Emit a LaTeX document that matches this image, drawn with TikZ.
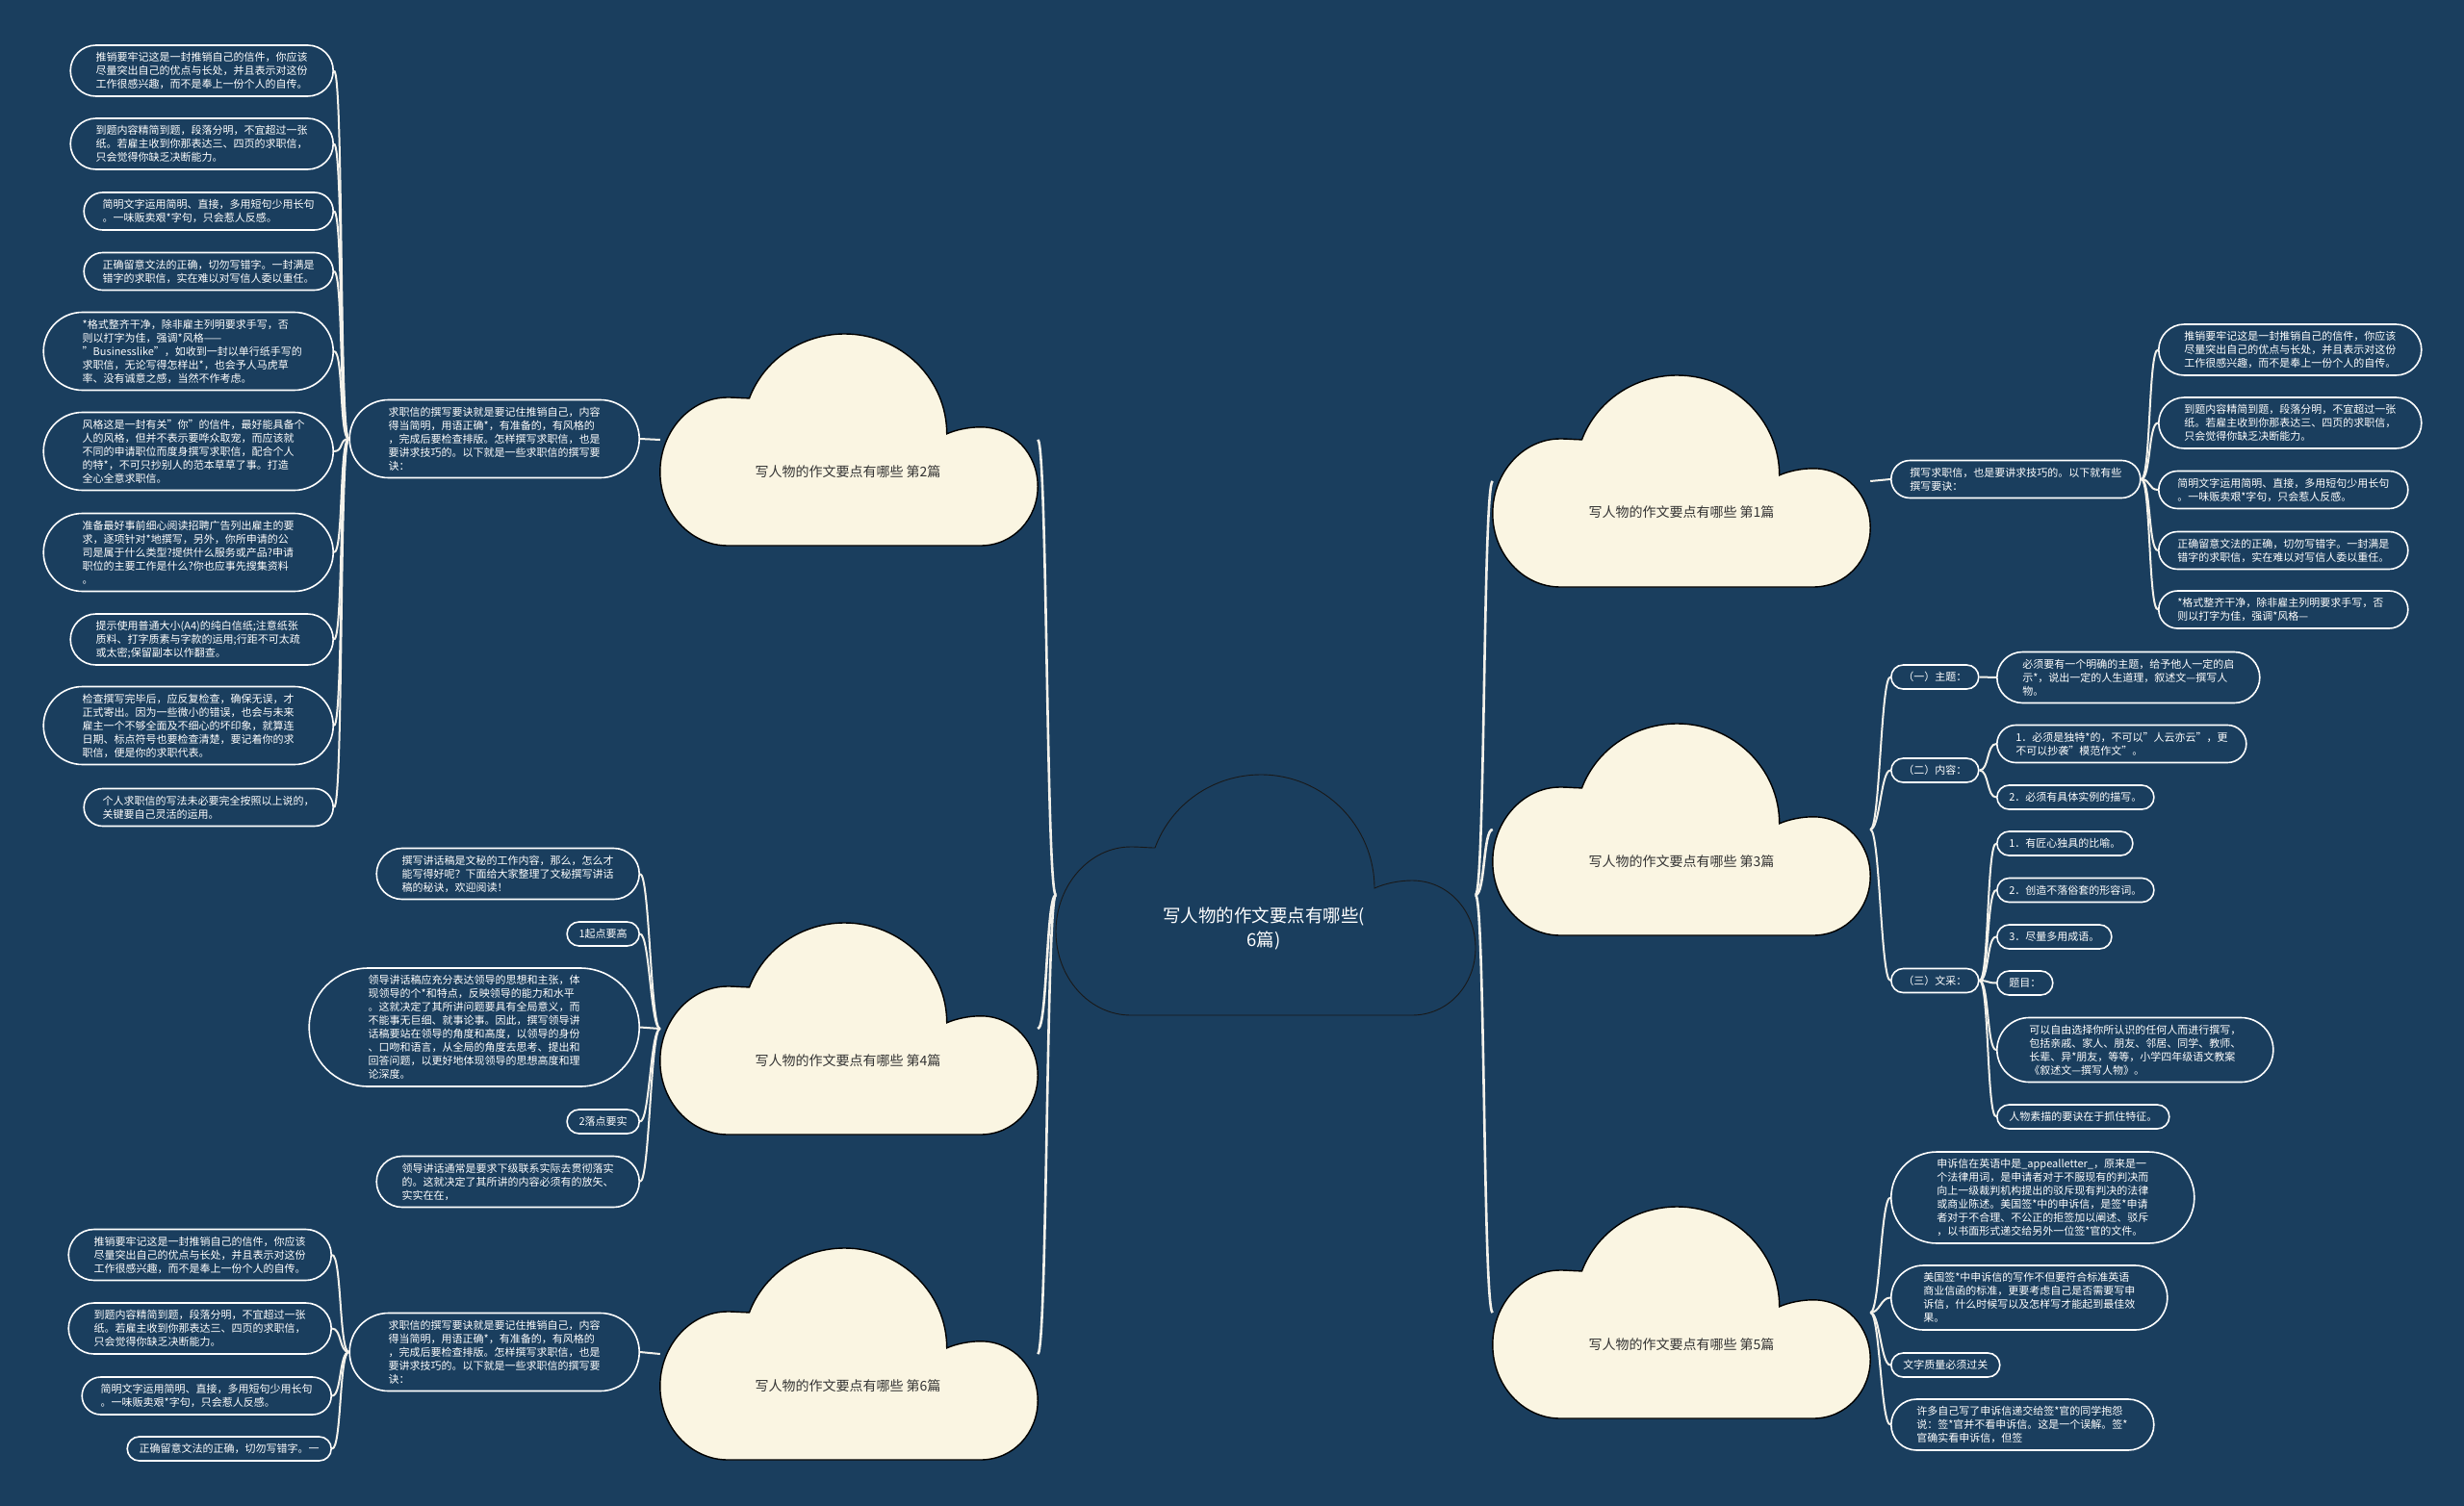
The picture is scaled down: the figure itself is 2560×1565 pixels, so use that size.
\documentclass[tikz,border=0pt]{standalone}
\usepackage{fontspec}
\setmainfont{Noto Sans CJK SC}

\definecolor{bgblue}{HTML}{1A3E5E}
\definecolor{cream}{HTML}{FAF5E2}
\definecolor{linecol}{HTML}{F3F1EA}

\tikzset{
    leaf/.style={rectangle, draw=white, line width=1.6pt, inner ysep=3pt,
        text=white, font=\fontsize{11}{14}\selectfont, align=left},
    wide/.style={text width=220pt},
    lines1/.style={minimum height=25pt, inner xsep=12.5pt, rounded corners=12.5pt},
    lines2/.style={minimum height=39pt, inner xsep=19.5pt, rounded corners=19.5pt},
    lines3/.style={minimum height=53pt, inner xsep=26.5pt, rounded corners=26.5pt},
    lines4/.style={minimum height=67pt, inner xsep=33.5pt, rounded corners=33.5pt},
    lines5/.style={minimum height=81pt, inner xsep=40.5pt, rounded corners=40.5pt},
    lines6/.style={minimum height=95pt, inner xsep=47.5pt, rounded corners=47.5pt},
    lines8/.style={minimum height=123pt, inner xsep=61.5pt, rounded corners=61.5pt},
    link/.style={draw=linecol, line width=2pt},
    rootlink/.style={draw=linecol, line width=2.6pt},
    roottext/.style={text=white, font=\fontsize{18.5}{25}\selectfont, align=center},
    cloudtext/.style={text=black!80, font=\fontsize{14}{17}\selectfont},
    rootcloud/.style={fill=bgblue, draw=black!90, line width=0.9pt},
    branchcloud/.style={fill=cream, draw=black, line width=1.4pt, xscale=0.9, yscale=0.88},
    cloudpic/.pic={
        \path[pic actions] (-140,125)
            .. controls (-183,125) and (-218,86) .. (-218,38)
            .. controls (-218,-10) and (-183,-50) .. (-140,-50)
            .. controls (-131,-50) and (-122,-49) .. (-115,-49)
            .. controls (-98,-95) and (-54,-125) .. (-5,-125)
            .. controls (60,-125) and (113,-72) .. (113,-7)
            .. controls (124,-12) and (139,-15) .. (152,-15)
            .. controls (190,-15) and (218,17) .. (218,55)
            .. controls (218,93) and (190,125) .. (152,125)
            -- cycle;
        \coordinate (-w) at (-218,0);
        \coordinate (-e) at (218,0);
    }
}

\begin{document}
\begin{tikzpicture}[x=1pt, y=-1pt]
    \useasboundingbox (0,0) rectangle (2560,1565);
    \fill[bgblue] (0,0) rectangle (2560,1565);

    \pic[rootcloud] (c0) at (1315,930) {cloudpic};
    \pic[branchcloud] (c1) at (1747,500) {cloudpic};
    \pic[branchcloud] (c2) at (882,457) {cloudpic};
    \pic[branchcloud] (c3) at (1747,862) {cloudpic};
    \pic[branchcloud] (c4) at (882,1069) {cloudpic};
    \pic[branchcloud] (c5) at (1747,1364) {cloudpic};
    \pic[branchcloud] (c6) at (882,1407) {cloudpic};

    \node [roottext] (root) at (1313,965) {写人物的作文要点有哪些(\\6篇)};
    \node [cloudtext] (t1) at (1747,532) {写人物的作文要点有哪些 第1篇};
    \node [cloudtext] (t2) at (881,490) {写人物的作文要点有哪些 第2篇};
    \node [cloudtext] (t3) at (1747,895) {写人物的作文要点有哪些 第3篇};
    \node [cloudtext] (t4) at (881,1102) {写人物的作文要点有哪些 第4篇};
    \node [cloudtext] (t5) at (1747,1397) {写人物的作文要点有哪些 第5篇};
    \node [cloudtext] (t6) at (881,1440) {写人物的作文要点有哪些 第6篇};

    \draw[rootlink] (c0-w) .. controls +(-10,0) and +(10,0) .. (c2-e);
    \draw[rootlink] (c0-w) .. controls +(-10,0) and +(10,0) .. (c4-e);
    \draw[rootlink] (c0-w) .. controls +(-10,0) and +(10,0) .. (c6-e);
    \draw[rootlink] (c0-e) .. controls +(10,0) and +(-10,0) .. (c1-w);
    \draw[rootlink] (c0-e) .. controls +(10,0) and +(-10,0) .. (c3-w);
    \draw[rootlink] (c0-e) .. controls +(10,0) and +(-10,0) .. (c5-w);

    % 第1篇
    \node [leaf, wide, lines2, anchor=west] (m1) at (1964,498) {撰写求职信，也是要讲求技巧的。以下就有些\\撰写要诀：};
    \node [leaf, wide, lines3, anchor=west] (r1a) at (2242,363.5) {推销要牢记这是一封推销自己的信件，你应该\\尽量突出自己的优点与长处，并且表示对这份\\工作很感兴趣，而不是奉上一份个人的自传。};
    \node [leaf, wide, lines3, anchor=west] (r1b) at (2242,439.5) {到题内容精简到题，段落分明，不宜超过一张\\纸。若雇主收到你那表达三、四页的求职信，\\只会觉得你缺乏决断能力。};
    \node [leaf, wide, lines2, anchor=west] (r1c) at (2242,509) {简明文字运用简明、直接，多用短句少用长句\\。一味贩卖艰*字句，只会惹人反感。};
    \node [leaf, wide, lines2, anchor=west] (r1d) at (2242,572) {正确留意文法的正确，切勿写错字。一封满是\\错字的求职信，实在难以对写信人委以重任。};
    \node [leaf, wide, lines2, anchor=west] (r1e) at (2242,633.5) {*格式整齐干净，除非雇主列明要求手写，否\\则以打字为佳，强调*风格—};

    \draw[link] (c1-e) -- (m1.west);
    \draw[link] (m1.east) .. controls +(10,0) and +(-10,0) .. (r1a.west);
    \draw[link] (m1.east) .. controls +(10,0) and +(-10,0) .. (r1b.west);
    \draw[link] (m1.east) .. controls +(10,0) and +(-10,0) .. (r1c.west);
    \draw[link] (m1.east) .. controls +(10,0) and +(-10,0) .. (r1d.west);
    \draw[link] (m1.east) .. controls +(10,0) and +(-10,0) .. (r1e.west);

    % 第2篇
    \node [leaf, wide, lines5, anchor=east] (m2) at (665,456) {求职信的撰写要诀就是要记住推销自己，内容\\得当简明，用语正确*，有准备的，有风格的\\，完成后要检查排版。怎样撰写求职信，也是\\要讲求技巧的。以下就是一些求职信的撰写要\\诀：};
    \node [leaf, wide, lines3, anchor=east] (l2a) at (347,73.5) {推销要牢记这是一封推销自己的信件，你应该\\尽量突出自己的优点与长处，并且表示对这份\\工作很感兴趣，而不是奉上一份个人的自传。};
    \node [leaf, wide, lines3, anchor=east] (l2b) at (347,149.5) {到题内容精简到题，段落分明，不宜超过一张\\纸。若雇主收到你那表达三、四页的求职信，\\只会觉得你缺乏决断能力。};
    \node [leaf, wide, lines2, anchor=east] (l2c) at (347,219.5) {简明文字运用简明、直接，多用短句少用长句\\。一味贩卖艰*字句，只会惹人反感。};
    \node [leaf, wide, lines2, anchor=east] (l2d) at (347,282) {正确留意文法的正确，切勿写错字。一封满是\\错字的求职信，实在难以对写信人委以重任。};
    \node [leaf, wide, lines5, anchor=east] (l2e) at (347,365) {*格式整齐干净，除非雇主列明要求手写，否\\则以打字为佳，强调*风格——\\"Businesslike"，如收到一封以单行纸手写的\\求职信，无论写得怎样出*，也会予人马虎草\\率、没有诚意之感，当然不作考虑。};
    \node [leaf, wide, lines5, anchor=east] (l2f) at (347,469) {风格这是一封有关"你"的信件，最好能具备个\\人的风格，但并不表示要哗众取宠，而应该就\\不同的申请职位而度身撰写求职信，配合个人\\的特*，不可只抄别人的范本草草了事。打造\\全心全意求职信。};
    \node [leaf, wide, lines5, anchor=east] (l2g) at (347,574) {准备最好事前细心阅读招聘广告列出雇主的要\\求，逐项针对*地撰写，另外，你所申请的公\\司是属于什么类型?提供什么服务或产品?申请\\职位的主要工作是什么?你也应事先搜集资料\\。};
    \node [leaf, wide, lines3, anchor=east] (l2h) at (347,664.5) {提示使用普通大小(A4)的纯白信纸;注意纸张\\质料、打字质素与字款的运用;行距不可太疏\\或太密;保留副本以作翻查。};
    \node [leaf, wide, lines5, anchor=east] (l2i) at (347,754) {检查撰写完毕后，应反复检查，确保无误，才\\正式寄出。因为一些微小的错误，也会与未来\\雇主一个不够全面及不细心的坏印象，就算连\\日期、标点符号也要检查清楚，要记着你的求\\职信，便是你的求职代表。};
    \node [leaf, wide, lines2, anchor=east] (l2j) at (347,839) {个人求职信的写法未必要完全按照以上说的，\\关键要自己灵活的运用。};

    \draw[link] (c2-w) -- (m2.east);
    \draw[link] (m2.west) .. controls +(-10,0) and +(10,0) .. (l2a.east);
    \draw[link] (m2.west) .. controls +(-10,0) and +(10,0) .. (l2b.east);
    \draw[link] (m2.west) .. controls +(-10,0) and +(10,0) .. (l2c.east);
    \draw[link] (m2.west) .. controls +(-10,0) and +(10,0) .. (l2d.east);
    \draw[link] (m2.west) .. controls +(-10,0) and +(10,0) .. (l2e.east);
    \draw[link] (m2.west) .. controls +(-10,0) and +(10,0) .. (l2f.east);
    \draw[link] (m2.west) .. controls +(-10,0) and +(10,0) .. (l2g.east);
    \draw[link] (m2.west) .. controls +(-10,0) and +(10,0) .. (l2h.east);
    \draw[link] (m2.west) .. controls +(-10,0) and +(10,0) .. (l2i.east);
    \draw[link] (m2.west) .. controls +(-10,0) and +(10,0) .. (l2j.east);

    % 第3篇
    \node [leaf, lines1, anchor=west] (k1) at (1964,703.5) {（一）主题：};
    \node [leaf, lines1, anchor=west] (k2) at (1964,800.5) {（二）内容：};
    \node [leaf, lines1, anchor=west] (k3) at (1964,1019) {（三）文采：};
    \node [leaf, wide, lines3, anchor=west] (s1) at (2074,704) {必须要有一个明确的主题，给予他人一定的启\\示*，说出一定的人生道理，叙述文—撰写人\\物。};
    \node [leaf, wide, lines2, anchor=west] (s2a) at (2074,773) {1．必须是独特*的，不可以"人云亦云"，更\\不可以抄袭"模范作文"。};
    \node [leaf, lines1, anchor=west] (s2b) at (2074,828.5) {2．必须有具体实例的描写。};
    \node [leaf, lines1, anchor=west] (s3a) at (2074,876.5) {1．有匠心独具的比喻。};
    \node [leaf, lines1, anchor=west] (s3b) at (2074,925) {2．创造不落俗套的形容词。};
    \node [leaf, lines1, anchor=west] (s3c) at (2074,973.5) {3．尽量多用成语。};
    \node [leaf, lines1, anchor=west] (s3d) at (2074,1021.5) {题目：};
    \node [leaf, wide, lines4, anchor=west] (s3e) at (2074,1091) {可以自由选择你所认识的任何人而进行撰写，\\包括亲戚、家人、朋友、邻居、同学、教师、\\长辈、异*朋友，等等，小学四年级语文教案\\《叙述文—撰写人物》。};
    \node [leaf, lines1, anchor=west] (s3f) at (2074,1160.5) {人物素描的要诀在于抓住特征。};

    \draw[link] (c3-e) .. controls +(10,0) and +(-10,0) .. (k1.west);
    \draw[link] (c3-e) .. controls +(10,0) and +(-10,0) .. (k2.west);
    \draw[link] (c3-e) .. controls +(10,0) and +(-10,0) .. (k3.west);
    \draw[link] (k1.east) -- (s1.west);
    \draw[link] (k2.east) .. controls +(10,0) and +(-10,0) .. (s2a.west);
    \draw[link] (k2.east) .. controls +(10,0) and +(-10,0) .. (s2b.west);
    \draw[link] (k3.east) .. controls +(10,0) and +(-10,0) .. (s3a.west);
    \draw[link] (k3.east) .. controls +(10,0) and +(-10,0) .. (s3b.west);
    \draw[link] (k3.east) .. controls +(10,0) and +(-10,0) .. (s3c.west);
    \draw[link] (k3.east) .. controls +(10,0) and +(-10,0) .. (s3d.west);
    \draw[link] (k3.east) .. controls +(10,0) and +(-10,0) .. (s3e.west);
    \draw[link] (k3.east) .. controls +(10,0) and +(-10,0) .. (s3f.west);

    % 第4篇
    \node [leaf, wide, lines3, anchor=east] (l4a) at (665,908) {撰写讲话稿是文秘的工作内容，那么，怎么才\\能写得好呢？下面给大家整理了文秘撰写讲话\\稿的秘诀，欢迎阅读！};
    \node [leaf, lines1, anchor=east] (l4b) at (665,970.5) {1起点要高};
    \node [leaf, wide, lines8, anchor=east] (l4c) at (665,1067.5) {领导讲话稿应充分表达领导的思想和主张，体\\现领导的个*和特点，反映领导的能力和水平\\。这就决定了其所讲问题要具有全局意义，而\\不能事无巨细、就事论事。因此，撰写领导讲\\话稿要站在领导的角度和高度，以领导的身份\\、口吻和语言，从全局的角度去思考、提出和\\回答问题，以更好地体现领导的思想高度和理\\论深度。};
    \node [leaf, lines1, anchor=east] (l4d) at (665,1165.5) {2落点要实};
    \node [leaf, wide, lines3, anchor=east] (l4e) at (665,1228) {领导讲话通常是要求下级联系实际去贯彻落实\\的。这就决定了其所讲的内容必须有的放矢、\\实实在在，};

    \draw[link] (c4-w) .. controls +(-10,0) and +(10,0) .. (l4a.east);
    \draw[link] (c4-w) .. controls +(-10,0) and +(10,0) .. (l4b.east);
    \draw[link] (c4-w) .. controls +(-10,0) and +(10,0) .. (l4c.east);
    \draw[link] (c4-w) .. controls +(-10,0) and +(10,0) .. (l4d.east);
    \draw[link] (c4-w) .. controls +(-10,0) and +(10,0) .. (l4e.east);

    % 第5篇
    \node [leaf, wide, lines6, anchor=west] (l5a) at (1964,1244.5) {申诉信在英语中是\_appealletter\_，原来是一\\个法律用词，是申请者对于不服现有的判决而\\向上一级裁判机构提出的驳斥现有判决的法律\\或商业陈述。美国签*中的申诉信，是签*申请\\者对于不合理、不公正的拒签加以阐述、驳斥\\，以书面形式递交给另外一位签*官的文件。};
    \node [leaf, wide, lines4, anchor=west] (l5b) at (1964,1348.5) {美国签*中申诉信的写作不但要符合标准英语\\商业信函的标准，更要考虑自己是否需要写申\\诉信，什么时候写以及怎样写才能起到最佳效\\果。};
    \node [leaf, lines1, anchor=west] (l5c) at (1964,1418.5) {文字质量必须过关};
    \node [leaf, wide, lines3, anchor=west] (l5d) at (1964,1480.5) {许多自己写了申诉信递交给签*官的同学抱怨\\说：签*官并不看申诉信。这是一个误解。签*\\官确实看申诉信，但签};

    \draw[link] (c5-e) .. controls +(10,0) and +(-10,0) .. (l5a.west);
    \draw[link] (c5-e) .. controls +(10,0) and +(-10,0) .. (l5b.west);
    \draw[link] (c5-e) .. controls +(10,0) and +(-10,0) .. (l5c.west);
    \draw[link] (c5-e) .. controls +(10,0) and +(-10,0) .. (l5d.west);

    % 第6篇
    \node [leaf, wide, lines5, anchor=east] (m6) at (665,1405) {求职信的撰写要诀就是要记住推销自己，内容\\得当简明，用语正确*，有准备的，有风格的\\，完成后要检查排版。怎样撰写求职信，也是\\要讲求技巧的。以下就是一些求职信的撰写要\\诀：};
    \node [leaf, wide, lines3, anchor=east] (l6a) at (345,1304) {推销要牢记这是一封推销自己的信件，你应该\\尽量突出自己的优点与长处，并且表示对这份\\工作很感兴趣，而不是奉上一份个人的自传。};
    \node [leaf, wide, lines3, anchor=east] (l6b) at (345,1380.5) {到题内容精简到题，段落分明，不宜超过一张\\纸。若雇主收到你那表达三、四页的求职信，\\只会觉得你缺乏决断能力。};
    \node [leaf, wide, lines2, anchor=east] (l6c) at (345,1450.5) {简明文字运用简明、直接，多用短句少用长句\\。一味贩卖艰*字句，只会惹人反感。};
    \node [leaf, lines1, anchor=east] (l6d) at (345,1505.5) {正确留意文法的正确，切勿写错字。一};

    \draw[link] (c6-w) -- (m6.east);
    \draw[link] (m6.west) .. controls +(-10,0) and +(10,0) .. (l6a.east);
    \draw[link] (m6.west) .. controls +(-10,0) and +(10,0) .. (l6b.east);
    \draw[link] (m6.west) .. controls +(-10,0) and +(10,0) .. (l6c.east);
    \draw[link] (m6.west) .. controls +(-10,0) and +(10,0) .. (l6d.east);
\end{tikzpicture}
\end{document}
